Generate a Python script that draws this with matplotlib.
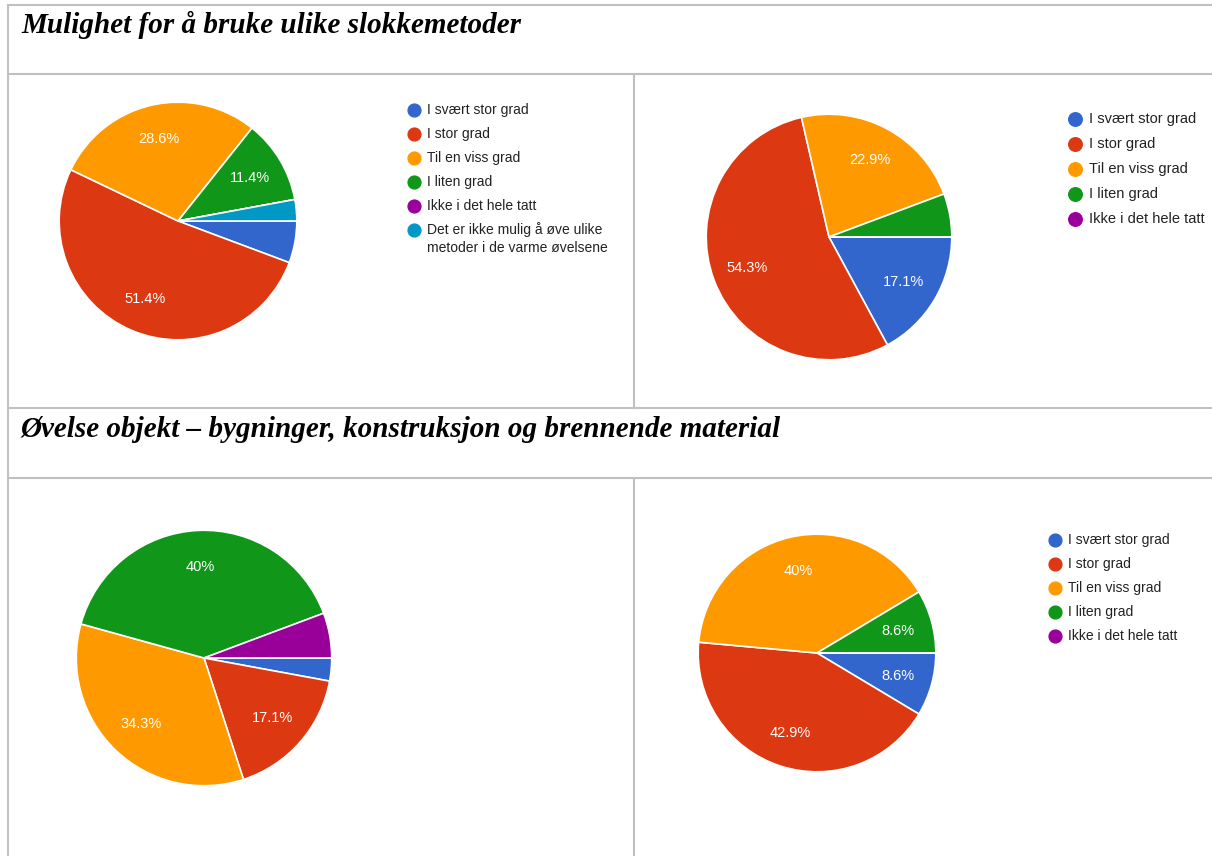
import numpy as np
import matplotlib
matplotlib.use("Agg")
import matplotlib.pyplot as plt

# categories (legend labels)
categories = ["I svært stor grad", "I stor grad", "Til en viss grad",
              "I liten grad", "Ikke i det hele tatt"]
extra_category = "Det er ikke mulig å øve ulike\nmetoder i de varme øvelsene"

colors = ["#3366cc", "#dc3912", "#ff9900", "#109618", "#990099", "#0099c6"]

# percentages
slukke_left = [5.7, 51.4, 28.6, 11.4, 0.0, 2.9]
slukke_right = [17.1, 54.3, 22.9, 5.7, 0.0]
objekt_left = [2.9, 17.1, 34.3, 40.0, 5.7]
objekt_right = [8.6, 42.9, 40.0, 8.6, 0.0]

titles = ["Mulighet for å bruke ulike slokkemetoder",
          "Øvelse objekt – bygninger, konstruksjon og brennende material"]

W, H = 1212, 856
fig = plt.figure(figsize=(W / 100, H / 100), dpi=100)

# background axes in pixel coordinates
bg = fig.add_axes([0, 0, 1, 1])
bg.set_xlim(0, W)
bg.set_ylim(H, 0)
bg.axis("off")

line_kw = dict(color="#c0c0c0", lw=1.5)
for y in [5, 74, 408, 478]:
    bg.plot([8, W], [y, y], **line_kw)
bg.plot([8, 8], [5, H], **line_kw)
bg.plot([634, 634], [74, 408], **line_kw)
bg.plot([634, 634], [478, H], **line_kw)

bg.text(21, 25, titles[0], fontsize=21, family="Liberation Serif",
        weight="bold", style="italic", va="center", ha="left")
bg.text(21, 429, titles[1], fontsize=21, family="Liberation Serif",
        weight="bold", style="italic", va="center", ha="left")


def fmt(p):
    s = "%.1f" % p
    if s.endswith(".0"):
        s = s[:-2]
    return s + "%"


def draw_pie(values, cx, cy, r):
    ax = fig.add_axes([(cx - r) / W, 1 - (cy + r) / H, 2 * r / W, 2 * r / H])
    ax.pie(values, colors=colors[:len(values)], startangle=0,
           counterclock=False,
           wedgeprops=dict(edgecolor="white", linewidth=1.2))
    # labels on the larger slices
    ang = 0.0
    for v in values:
        mid = ang - v / 100 * 360 / 2
        ang -= v / 100 * 360
        if v >= 8:
            ax.text(0.71 * np.cos(np.radians(mid)), 0.71 * np.sin(np.radians(mid)),
                    fmt(v), color="white", fontsize=10.5, family="Liberation Sans",
                    ha="center", va="center")
    ax.set_xlim(-1.01, 1.01)
    ax.set_ylim(-1.01, 1.01)
    ax.set_aspect("equal")
    return ax


draw_pie(slukke_left, 178, 221, 120)
draw_pie(slukke_right, 829, 237, 124)
draw_pie(objekt_left, 204, 658, 129)
draw_pie(objekt_right, 817, 653, 120)

# legends
for i, lab in enumerate(categories + [extra_category]):
    yy = 110 + i * 24
    bg.scatter([414], [yy], s=85, color=colors[i], zorder=3)
    if "\n" in lab:
        bg.text(427, yy - 8, lab, fontsize=10, family="Liberation Sans",
                color="#222222", va="top", ha="left", linespacing=1.35)
    else:
        bg.text(427, yy, lab, fontsize=10, family="Liberation Sans",
                color="#222222", va="center", ha="left")

for i, lab in enumerate(categories):
    yy = 119 + i * 25
    bg.scatter([1075], [yy], s=95, color=colors[i], zorder=3)
    bg.text(1089, yy, lab, fontsize=10.5, family="Liberation Sans",
            color="#222222", va="center", ha="left")

for i, lab in enumerate(categories):
    yy = 540 + i * 24
    bg.scatter([1055], [yy], s=85, color=colors[i], zorder=3)
    bg.text(1068, yy, lab, fontsize=10, family="Liberation Sans",
            color="#222222", va="center", ha="left")

fig.savefig("out.png", dpi=100)
